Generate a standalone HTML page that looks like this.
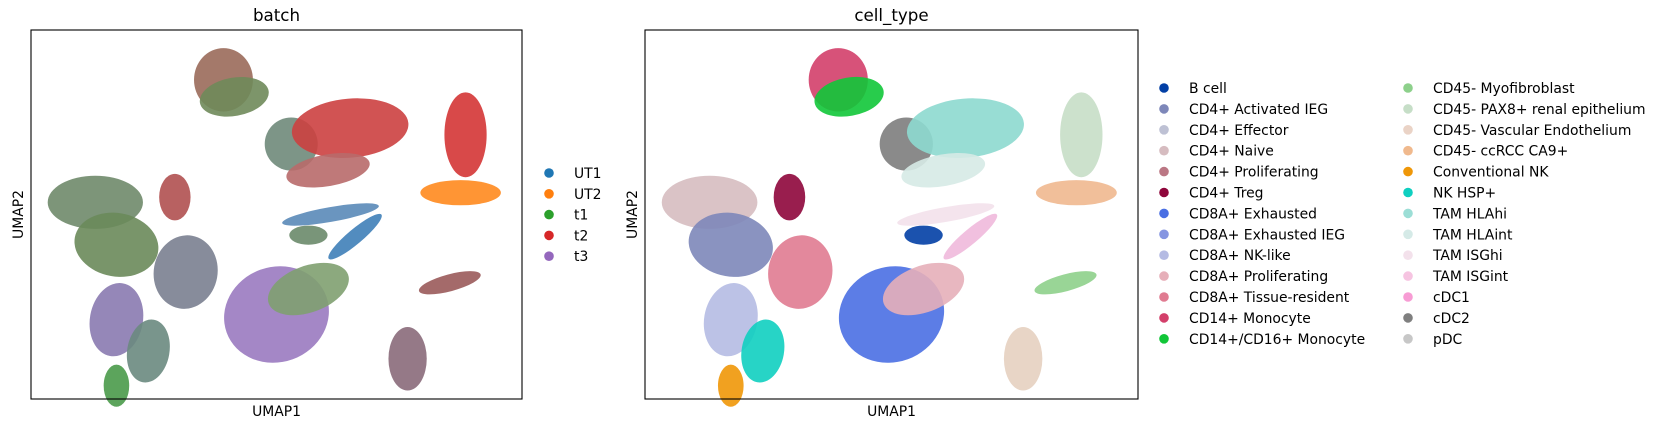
<!DOCTYPE html>
<html><head><meta charset="utf-8"><style>
body{margin:0;background:#fff;font-family:"DejaVu Sans","Liberation Sans",sans-serif}
svg text{font-family:"DejaVu Sans","Liberation Sans",sans-serif}
</style></head><body>
<svg id="chart" width="1661" height="429" xmlns="http://www.w3.org/2000/svg"></svg>
<script>
// UMAP-space data: cluster centres (0..100 range) and spreads
const clusterNames=["mono14","mono1416","cdc2","tamhlahi","tamhlaint","tamisgint","pax8","ccrcc","bcell","myofib","vasc","cd4naive","cd4ieg","treg","cd8trm","cd8nk","nkhsp","convnk","cd8exh","cd8prolif","tamisghi"];
const clusterX=[39.2,41.4,53.0,65.0,60.5,66,88.5,87.5,56.5,85.3,76.7,13.1,17.4,29.3,31.5,17.4,23.9,17.4,50.0,56.5,61];
const clusterY=[86.5,81.9,69.1,73.4,62.0,44,71.6,55.9,44.4,31.5,10.9,53.3,41.8,54.7,34.4,21.5,13.0,3.6,22.9,29.8,50];
const clusterRX=[6.0,7.1,5.4,11.9,8.6,7,4.3,8.2,3.9,6.5,3.9,9.7,8.6,3.2,6.5,5.4,4.3,2.6,10.8,8.6,10];
const clusterRY=[8.6,5.2,7.2,8.0,4.3,2,11.5,3.4,2.6,2.3,8.6,7.2,8.6,6.3,10.0,10.0,8.6,5.7,12.9,6.3,2];
const clusterRot=[0,-10,0,-5,-10,-40,0,0,0,-15,0,0,10,0,10,10,10,0,-20,-20,-10];
const cellColors=["#d33f6a","#11c638","#7d7d7d","#8dd9cf","#d6eae6","#f0b9dc","#c6dec7","#efb88f","#023fa5","#8ed08b","#e6d0c0","#d6bcc0","#7d87b9","#8e063b","#e07b91","#b5bbe3","#0fcfc0","#ef9708","#4a6fe3","#e6afb9","#f3e1eb"];
const batchColors=["#9a6a5a","#6f8a5a","#6f8a7a","#cc4040","#b86a6a","#3f7fb8","#d43535","#ff8a1e","#6a8a6a","#9a5a5a","#8a6a7a","#6f8a6a","#6a8a5a","#b05050","#7a8090","#8a7ab0","#6a8a80","#4a9a4a","#9a7ac0","#80a070","#5a8ab8"];
const batchLabels=["UT1","UT2","t1","t2","t3"];
const batchLegendColors=["#1f77b4","#ff7f0e","#2ca02c","#d62728","#9467bd"];
const cellLabels=["B cell","CD4+ Activated IEG","CD4+ Effector","CD4+ Naive","CD4+ Proliferating","CD4+ Treg","CD8A+ Exhausted","CD8A+ Exhausted IEG","CD8A+ NK-like","CD8A+ Proliferating","CD8A+ Tissue-resident","CD14+ Monocyte","CD14+/CD16+ Monocyte","CD45- Myofibroblast","CD45- PAX8+ renal epithelium","CD45- Vascular Endothelium","CD45- ccRCC CA9+","Conventional NK","NK HSP+","TAM HLAhi","TAM HLAint","TAM ISGhi","TAM ISGint","cDC1","cDC2","pDC"];
const cellLegendColors=["#023fa5","#7d87b9","#bec1d4","#d6bcc0","#bb7784","#8e063b","#4a6fe3","#8595e1","#b5bbe3","#e6afb9","#e07b91","#d33f6a","#11c638","#8dd08b","#c6dec7","#ead3c6","#f0b98d","#ef9708","#0fcfc0","#9cded6","#d5eae7","#f3e1eb","#f6c4e1","#f79cd4","#7f7f7f","#c7c7c7"];

const NS="http://www.w3.org/2000/svg";
const svg=document.getElementById('chart');
function mk(tag,attrs,parent){const e=document.createElementNS(NS,tag);for(const k in attrs)e.setAttribute(k,attrs[k]);(parent||svg).appendChild(e);return e;}
const TOP=30,H=369;
function panel(x0,W,title,colors,name){
  const g=mk('g',{});
  
  
  const sx=v=>x0+v/100*W, sy=v=>TOP+H-v/100*H;
  for(let i=0;i<clusterX.length;i++){
    const e=mk('ellipse',{cx:sx(clusterX[i]),cy:sy(clusterY[i]),rx:clusterRX[i]/100*W,ry:clusterRY[i]/100*H,fill:colors[i],opacity:0.9,transform:`rotate(${clusterRot[i]} ${sx(clusterX[i])} ${sy(clusterY[i])})`},g);
    
    
  }
  const f=mk('rect',{x:x0,y:TOP,width:W,height:H,fill:'none',stroke:'#000','stroke-width':1.1},g);
  
  
  const t=mk('text',{x:x0+W/2,y:21,'text-anchor':'middle','font-size':16.7},g);t.textContent=title;
  
  
  const xl=mk('text',{x:x0+W/2,y:416,'text-anchor':'middle','font-size':13.9},g);xl.textContent='UMAP1';
  
  
  const yl=mk('text',{x:0,y:0,'text-anchor':'middle','font-size':13.9,transform:`translate(${x0-8},${TOP+H/2}) rotate(-90)`},g);yl.textContent='UMAP2';
  
  
}
panel(31,491,'batch',batchColors,'batch-panel');
panel(645,493,'cell_type',cellColors,'cell-type-panel');
function legendEntry(mx,y,col,label){
  const g=mk('g',{});
  
  
  mk('circle',{cx:mx,cy:y,r:4.8,fill:col},g);
  const t=mk('text',{x:mx+25,y:y+5,'font-size':13.9},g);t.textContent=label;
}
batchLabels.forEach((l,i)=>legendEntry(549,173+i*20.8,batchLegendColors[i],l));
cellLabels.forEach((l,i)=>{const c=i<13?0:1,r=i<13?i:i-13;legendEntry(c?1408:1164,88+r*20.9,cellLegendColors[i],l);});
</script>
</body></html>
